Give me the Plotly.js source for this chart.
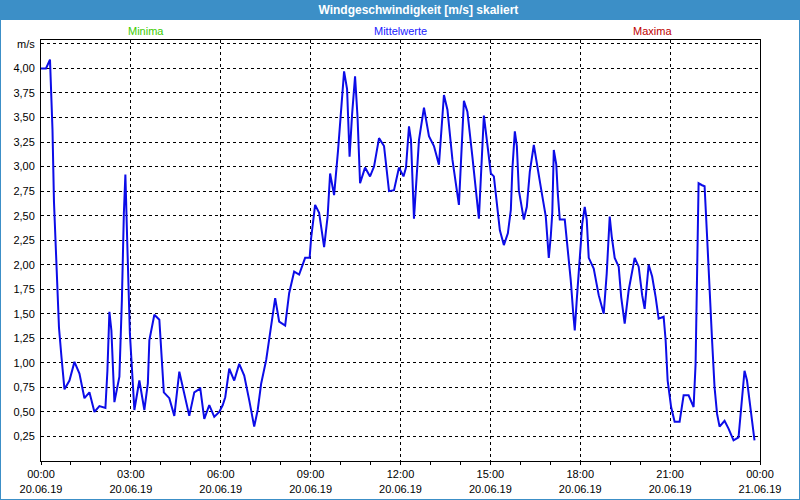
<!DOCTYPE html>
<html>
<head>
<meta charset="utf-8">
<script src="https://cdn.plot.ly/plotly-3.0.1.min.js"></script>
<style>
  body { margin: 0; }
  #wrap { position: relative; width: 800px; height: 500px;
          background: linear-gradient(#3c8fc7 0px, #3c8fc7 20px, #ffffff 20px); }
  #plot { width: 800px; height: 500px; }
  #frame { position: absolute; left: 0; top: 0; width: 798px; height: 498px;
           border: 1px solid #3c8fc7; pointer-events: none; }
</style>
</head>
<body>
<div id="wrap">
  <div id="plot"></div>
  <div id="frame"></div>
</div>
<script>
// minutes since 20.06.19 00:00
var timesMin = [0, 10, 18, 21, 23, 26, 29, 32, 36, 41, 47, 57, 67, 77, 87, 97, 107, 117, 129, 133,
  137, 141, 147, 157, 162, 166, 169, 173, 178, 187, 197, 207, 214, 217, 227, 237, 246, 257, 267, 277,
  287, 297, 307, 319, 327, 337, 347, 357, 364, 369, 377, 387, 397, 407, 417, 427, 434, 441, 451, 459,
  469, 477, 489, 497, 507, 517, 529, 538, 541, 549, 557, 567, 574, 579, 587, 595, 601, 607, 613, 618,
  623, 629, 634, 639, 649, 659, 667, 677, 687, 697, 707, 717, 726, 731, 737, 741, 747, 757, 767, 777,
  787, 797, 807, 814, 824, 837, 847, 854, 864, 877, 887, 893, 901, 907, 914, 919, 927, 935, 941, 944,
  949, 953, 957, 967, 973, 979, 987, 994, 1003, 1011, 1014, 1017, 1021, 1024, 1027, 1032, 1035, 1039, 1049, 1054,
  1061, 1066, 1069, 1073, 1078, 1084, 1089, 1093, 1097, 1107, 1117, 1127, 1133, 1139, 1143, 1149, 1157, 1162, 1169, 1177,
  1189, 1197, 1204, 1209, 1217, 1224, 1231, 1237, 1247, 1251, 1255, 1262, 1269, 1279, 1287, 1297, 1307, 1311, 1314, 1317,
  1324, 1329, 1334, 1339, 1344, 1349, 1354, 1359, 1369, 1377, 1387, 1397, 1402, 1409, 1414, 1419, 1424, 1429];

// wind speed m/s
var windSpeed = [4.00, 4.00, 4.09, 3.75, 3.38, 2.64, 2.25, 1.74, 1.36, 1.06, 0.73, 0.82, 1.01, 0.89, 0.64, 0.70, 0.50, 0.56, 0.54, 0.92,
  1.52, 1.33, 0.60, 0.86, 1.64, 2.53, 2.92, 2.18, 1.30, 0.52, 0.82, 0.52, 0.79, 1.23, 1.49, 1.44, 0.70, 0.64, 0.46, 0.91,
  0.70, 0.46, 0.70, 0.74, 0.43, 0.57, 0.45, 0.50, 0.57, 0.65, 0.94, 0.82, 0.99, 0.87, 0.62, 0.35, 0.52, 0.79, 1.03, 1.33,
  1.66, 1.42, 1.38, 1.71, 1.93, 1.90, 2.07, 2.07, 2.27, 2.61, 2.53, 2.18, 2.49, 2.93, 2.71, 3.17, 3.61, 3.97, 3.79, 3.10,
  3.53, 3.92, 3.50, 2.83, 2.99, 2.90, 3.00, 3.29, 3.21, 2.75, 2.76, 2.99, 2.90, 2.99, 3.41, 3.27, 2.47, 3.27, 3.60, 3.31,
  3.21, 3.02, 3.73, 3.58, 3.07, 2.61, 3.67, 3.56, 3.10, 2.47, 3.52, 3.27, 2.93, 2.90, 2.59, 2.35, 2.20, 2.32, 2.56, 2.97,
  3.36, 3.21, 2.76, 2.46, 2.59, 2.95, 3.22, 3.02, 2.73, 2.49, 2.25, 2.07, 2.29, 2.53, 3.17, 3.02, 2.73, 2.46, 2.46, 2.22,
  1.84, 1.50, 1.33, 1.64, 1.98, 2.42, 2.59, 2.46, 2.07, 1.96, 1.69, 1.50, 1.91, 2.49, 2.29, 2.07, 1.98, 1.67, 1.40, 1.74,
  2.07, 1.98, 1.69, 1.55, 2.00, 1.88, 1.67, 1.45, 1.47, 1.23, 0.82, 0.55, 0.40, 0.40, 0.67, 0.67, 0.55, 0.99, 1.91, 2.83,
  2.81, 2.80, 2.29, 1.71, 1.23, 0.75, 0.48, 0.35, 0.41, 0.33, 0.21, 0.24, 0.55, 0.92, 0.82, 0.62, 0.41, 0.21];

var xTickVals = [0, 3, 6, 9, 12, 15, 18, 21, 24];
var xTickText = ["00:00<br>20.06.19", "03:00<br>20.06.19", "06:00<br>20.06.19", "09:00<br>20.06.19",
  "12:00<br>20.06.19", "15:00<br>20.06.19", "18:00<br>20.06.19", "21:00<br>20.06.19", "00:00<br>21.06.19"];

var yTickVals = [0.25, 0.5, 0.75, 1, 1.25, 1.5, 1.75, 2, 2.25, 2.5, 2.75, 3, 3.25, 3.5, 3.75, 4, 4.25];
var yTickText = ["0,25", "0,50", "0,75", "1,00", "1,25", "1,50", "1,75", "2,00", "2,25", "2,50",
  "2,75", "3,00", "3,25", "3,50", "3,75", "4,00", "m/s"];

var legendNames = ["Minima", "Mittelwerte", "Maxima"];
var legendColors = ["#3ccc00", "#2020ff", "#c00000"];

var hours = timesMin.map(function(m) { return m / 60; });

var trace = {
  type: "scatter",
  mode: "lines",
  x: hours,
  y: windSpeed,
  line: { color: "#0c0ce8", width: 2 },
  hoverinfo: "skip"
};

var legendX = [0.146, 0.5, 0.85];
var annotations = legendNames.map(function(name, i) {
  return {
    text: name, xref: "paper", yref: "paper", x: legendX[i], y: 1.021,
    xanchor: "center", yanchor: "middle", showarrow: false,
    font: { family: "Liberation Sans, Arial, sans-serif", size: 11, color: legendColors[i] }
  };
});

var layout = {
  width: 800,
  height: 500,
  paper_bgcolor: "rgba(0,0,0,0)",
  plot_bgcolor: "#ffffff",
  showlegend: false,
  margin: { l: 41, r: 40, t: 40, b: 39 },
  font: { family: "Liberation Sans, Arial, sans-serif", size: 11, color: "#000000" },
  title: {
    text: "<b>Windgeschwindigkeit [m/s] skaliert</b>",
    xref: "container", yref: "container", x: 0.523, y: 0.98,
    xanchor: "center", yanchor: "middle",
    font: { family: "Liberation Sans, Arial, sans-serif", size: 12, color: "#ffffff" }
  },
  xaxis: {
    range: [0, 24],
    tickmode: "array",
    tickvals: xTickVals,
    ticktext: xTickText,
    ticks: "outside",
    ticklen: 3,
    tickcolor: "#000000",
    minor: { dtick: 1, ticks: "outside", ticklen: 3, tickcolor: "#000000", showgrid: false },
    showgrid: true,
    gridcolor: "#000000",
    gridwidth: 1,
    griddash: "3px,3px",
    showline: true,
    mirror: true,
    linecolor: "#000000",
    linewidth: 1,
    zeroline: false,
    fixedrange: true
  },
  yaxis: {
    range: [0, 4.29],
    tickmode: "array",
    tickvals: yTickVals,
    ticktext: yTickText,
    ticks: "",
    ticklabelstandoff: 3,
    showgrid: true,
    gridcolor: "#000000",
    gridwidth: 1,
    griddash: "3px,3px",
    showline: true,
    mirror: true,
    linecolor: "#000000",
    linewidth: 1,
    zeroline: false,
    fixedrange: true
  },
  annotations: annotations
};

Plotly.newPlot("plot", [trace], layout, { staticPlot: true, displayModeBar: false });
</script>
</body>
</html>
